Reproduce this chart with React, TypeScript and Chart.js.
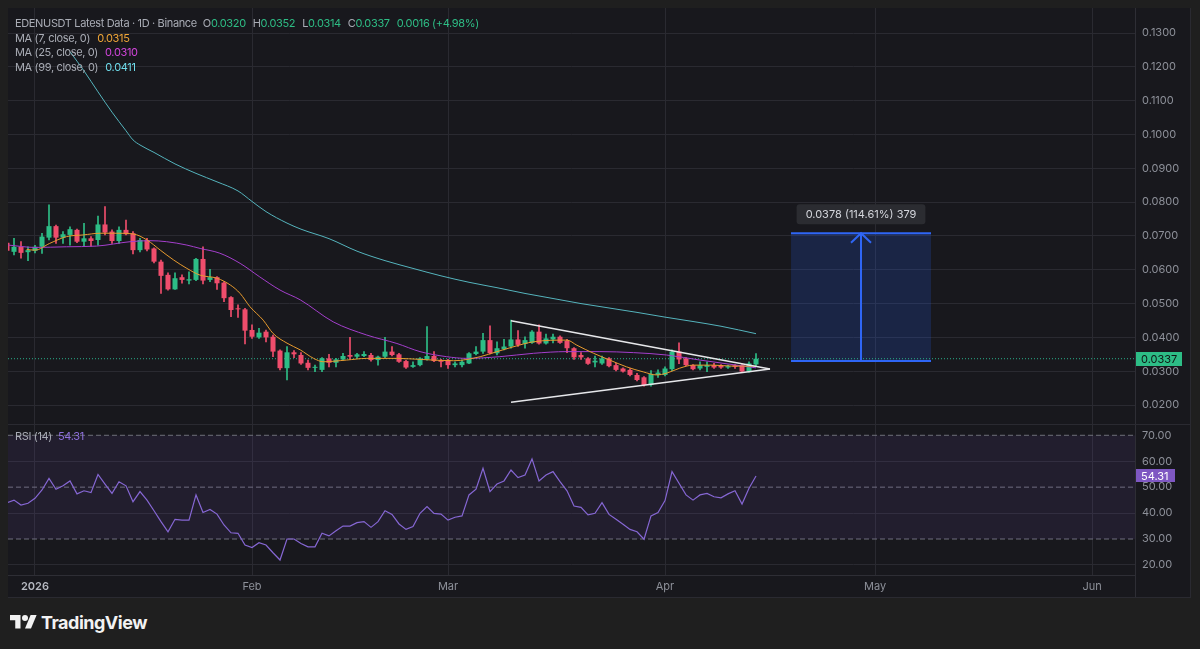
import React, { useEffect, useRef } from "react";
import { Chart, registerables } from "chart.js";

Chart.register(...registerables);

// ---------- data (day index 0 = 2026-01-01; first candle 2025-12-28) ----------
const FIRST_DAY = -4;
const OPEN = [
  0.0680, 0.0653, 0.0668, 0.0652, 0.0656, 0.0668, 0.0695, 0.0729, 0.0695, 0.0703,
  0.0718, 0.0683, 0.0693, 0.0688, 0.0734, 0.0713, 0.0685, 0.0718, 0.0708, 0.0658,
  0.0688, 0.0663, 0.0624, 0.0585, 0.0542, 0.0578, 0.0568, 0.0570, 0.0632, 0.0570,
  0.0578, 0.0562, 0.0519, 0.0486, 0.0483, 0.0422, 0.0400, 0.0417, 0.0402, 0.0361,
  0.0309, 0.0356, 0.0348, 0.0325, 0.0310, 0.0304, 0.0338, 0.0325, 0.0335, 0.0348,
  0.0343, 0.0345, 0.0348, 0.0333, 0.0343, 0.0358, 0.0350, 0.0330, 0.0313, 0.0318,
  0.0335, 0.0345, 0.0333, 0.0333, 0.0318, 0.0318, 0.0323, 0.0351, 0.0358, 0.0392,
  0.0353, 0.0365, 0.0373, 0.0394, 0.0381, 0.0384, 0.0417, 0.0382, 0.0394, 0.0402,
  0.0390, 0.0368, 0.0348, 0.0338, 0.0326, 0.0323, 0.0338, 0.0318, 0.0308, 0.0304,
  0.0289, 0.0282, 0.0259, 0.0289, 0.0289, 0.0306, 0.0358, 0.0338, 0.0318, 0.0308,
  0.0313, 0.0318, 0.0318, 0.0311, 0.0318, 0.0318, 0.0299, 0.0320,
];
const HIGH = [
  0.0685, 0.0693, 0.0683, 0.0668, 0.0672, 0.0708, 0.0792, 0.0732, 0.0713, 0.0727,
  0.0720, 0.0737, 0.0698, 0.0759, 0.0787, 0.0718, 0.0727, 0.0747, 0.0713, 0.0693,
  0.0693, 0.0665, 0.0629, 0.0591, 0.0591, 0.0585, 0.0594, 0.0634, 0.0668, 0.0601,
  0.0580, 0.0565, 0.0521, 0.0496, 0.0486, 0.0437, 0.0427, 0.0422, 0.0407, 0.0363,
  0.0373, 0.0361, 0.0355, 0.0333, 0.0318, 0.0340, 0.0350, 0.0338, 0.0353, 0.0400,
  0.0353, 0.0358, 0.0353, 0.0345, 0.0400, 0.0373, 0.0353, 0.0333, 0.0328, 0.0340,
  0.0432, 0.0358, 0.0335, 0.0335, 0.0328, 0.0333, 0.0355, 0.0373, 0.0412, 0.0434,
  0.0387, 0.0394, 0.0451, 0.0420, 0.0402, 0.0420, 0.0437, 0.0410, 0.0410, 0.0405,
  0.0394, 0.0370, 0.0355, 0.0340, 0.0345, 0.0345, 0.0340, 0.0323, 0.0310, 0.0308,
  0.0294, 0.0284, 0.0302, 0.0304, 0.0313, 0.0363, 0.0384, 0.0340, 0.0320, 0.0328,
  0.0328, 0.0323, 0.0320, 0.0318, 0.0320, 0.0320, 0.0328, 0.0352,
];
const LOW = [
  0.0650, 0.0644, 0.0634, 0.0627, 0.0650, 0.0648, 0.0688, 0.0678, 0.0678, 0.0673,
  0.0680, 0.0670, 0.0670, 0.0673, 0.0703, 0.0678, 0.0678, 0.0703, 0.0647, 0.0653,
  0.0656, 0.0620, 0.0530, 0.0540, 0.0542, 0.0560, 0.0558, 0.0568, 0.0558, 0.0565,
  0.0542, 0.0506, 0.0461, 0.0459, 0.0381, 0.0397, 0.0397, 0.0387, 0.0343, 0.0304,
  0.0274, 0.0340, 0.0320, 0.0304, 0.0299, 0.0299, 0.0313, 0.0313, 0.0333, 0.0335,
  0.0338, 0.0343, 0.0330, 0.0318, 0.0340, 0.0345, 0.0326, 0.0308, 0.0311, 0.0316,
  0.0333, 0.0328, 0.0313, 0.0308, 0.0313, 0.0313, 0.0322, 0.0348, 0.0353, 0.0351,
  0.0348, 0.0363, 0.0368, 0.0373, 0.0368, 0.0382, 0.0380, 0.0380, 0.0384, 0.0382,
  0.0355, 0.0335, 0.0335, 0.0320, 0.0313, 0.0320, 0.0313, 0.0301, 0.0297, 0.0286,
  0.0271, 0.0256, 0.0256, 0.0282, 0.0286, 0.0302, 0.0322, 0.0316, 0.0304, 0.0304,
  0.0299, 0.0308, 0.0308, 0.0308, 0.0308, 0.0297, 0.0297, 0.0314,
];
const CLOSE = [
  0.0656, 0.0668, 0.0650, 0.0658, 0.0668, 0.0698, 0.0729, 0.0695, 0.0705, 0.0720,
  0.0683, 0.0693, 0.0685, 0.0734, 0.0710, 0.0685, 0.0718, 0.0705, 0.0658, 0.0688,
  0.0660, 0.0624, 0.0582, 0.0542, 0.0575, 0.0570, 0.0572, 0.0632, 0.0568, 0.0578,
  0.0560, 0.0516, 0.0481, 0.0483, 0.0420, 0.0402, 0.0414, 0.0400, 0.0358, 0.0309,
  0.0356, 0.0350, 0.0323, 0.0310, 0.0313, 0.0338, 0.0325, 0.0335, 0.0345, 0.0343,
  0.0350, 0.0351, 0.0333, 0.0343, 0.0358, 0.0348, 0.0328, 0.0311, 0.0318, 0.0338,
  0.0345, 0.0330, 0.0328, 0.0318, 0.0323, 0.0328, 0.0353, 0.0358, 0.0392, 0.0353,
  0.0368, 0.0373, 0.0394, 0.0378, 0.0392, 0.0417, 0.0382, 0.0397, 0.0402, 0.0384,
  0.0368, 0.0341, 0.0341, 0.0322, 0.0331, 0.0338, 0.0315, 0.0304, 0.0299, 0.0289,
  0.0274, 0.0259, 0.0292, 0.0296, 0.0308, 0.0358, 0.0335, 0.0318, 0.0306, 0.0318,
  0.0318, 0.0311, 0.0311, 0.0315, 0.0313, 0.0299, 0.0323, 0.0337,
];
const RSI = [
  44.0, 45.0, 43.1, 43.8, 45.7, 48.9, 53.4, 49.2, 50.5, 52.4,
  47.4, 48.6, 47.9, 54.9, 51.2, 47.6, 52.1, 50.5, 44.4, 48.3,
  45.0, 40.9, 36.7, 32.8, 37.6, 37.3, 37.3, 47.0, 40.2, 41.4,
  39.6, 35.4, 32.4, 32.2, 27.7, 26.7, 28.6, 27.7, 24.7, 21.9,
  30.0, 30.0, 28.3, 27.0, 27.0, 32.2, 31.2, 33.2, 35.0, 35.0,
  36.3, 36.7, 34.5, 36.7, 40.9, 39.5, 35.8, 33.7, 34.8, 39.9,
  42.5, 39.9, 39.6, 37.3, 38.4, 38.9, 47.0, 49.2, 57.3, 48.3,
  51.2, 52.4, 56.6, 53.7, 54.7, 60.9, 52.4, 54.7, 56.0, 52.1,
  48.6, 42.7, 42.2, 39.3, 39.9, 44.0, 39.5, 37.6, 35.7, 33.7,
  32.8, 29.9, 38.9, 40.2, 44.8, 56.0, 51.5, 47.0, 45.0, 47.0,
  47.6, 46.3, 45.9, 47.4, 48.6, 43.5, 49.6, 54.31,
];

const MA7_DAYS = [-1.2, 0, 2.1, 4.5, 6.9, 9.3, 11.7, 14, 16, 17.9, 19.8, 21.7, 23.6, 26, 27.9, 29.3, 30.7, 32.6, 34, 36, 37.9, 39.8, 41.2, 44.5, 47.4, 51.7, 55, 59.8, 63.6, 66, 68.3, 71.2, 76, 77.4, 79.8, 82.1, 84.5, 86.9, 88.8, 90.2, 92.1, 94, 96.9, 99.8, 103];
const MA7_VALUES = [0.0660, 0.0658, 0.0678, 0.0698, 0.0703, 0.0708, 0.0708, 0.0706, 0.0688, 0.0658, 0.0629, 0.0604, 0.0584, 0.0575, 0.0555, 0.0530, 0.0491, 0.0451, 0.0412, 0.0383, 0.0363, 0.0338, 0.0328, 0.0333, 0.0338, 0.0338, 0.0335, 0.0331, 0.0343, 0.0358, 0.0372, 0.0387, 0.0392, 0.0377, 0.0353, 0.0333, 0.0313, 0.0298, 0.0289, 0.0294, 0.0309, 0.0318, 0.0318, 0.0315, 0.0315];
const MA25_DAYS = [-3.8, 0, 4.5, 8.8, 13.6, 16.4, 18.8, 21.7, 23.6, 26.4, 29.3, 32.1, 35, 37.9, 42.6, 47.4, 51.7, 55, 58.8, 61.7, 66.4, 71.2, 76, 80.7, 85.5, 90.2, 95, 103];
const MA25_VALUES = [0.0673, 0.0666, 0.0668, 0.0670, 0.0683, 0.0686, 0.0683, 0.0673, 0.0663, 0.0649, 0.0619, 0.0579, 0.0540, 0.0511, 0.0446, 0.0407, 0.0382, 0.0358, 0.0343, 0.0338, 0.0343, 0.0353, 0.0358, 0.0358, 0.0355, 0.0348, 0.0333, 0.0310];
const MA99_DAYS = [5, 7, 9, 11, 13, 14, 15, 17, 20, 23, 26, 29, 31, 33, 36, 38, 42, 46, 50, 54, 58, 62, 66, 70, 74, 78, 82, 86, 90, 94, 98, 103];
const MA99_VALUES = [0.1245, 0.1188, 0.1126, 0.1066, 0.1011, 0.0984, 0.0969, 0.0947, 0.0913, 0.0885, 0.0860, 0.0833, 0.0802, 0.0772, 0.0738, 0.0720, 0.0692, 0.0655, 0.0627, 0.0604, 0.0582, 0.0563, 0.0547, 0.0530, 0.0515, 0.0500, 0.0487, 0.0474, 0.0460, 0.0447, 0.0433, 0.0411];

// drawn triangle (day, price)
const TRI_UPPER_DAYS = [68, 105];
const TRI_UPPER_PRICES = [0.0449, 0.03065];
const TRI_LOWER_DAYS = [68, 105];
const TRI_LOWER_PRICES = [0.0208, 0.03065];

// price range measurement
const MEASURE_DAYS = [108, 128];
const MEASURE_ARROW_DAY = 118;
const MEASURE_LOW = 0.0330;
const MEASURE_HIGH = 0.0708;
const MEASURE_TEXT = "0.0378 (114.61%) 379";

const LAST_CLOSE = 0.0337;
const LAST_RSI = 54.31;

const PRICE_TICKS = [0.02, 0.03, 0.04, 0.05, 0.06, 0.07, 0.08, 0.09, 0.10, 0.11, 0.12, 0.13];
const RSI_TICKS = [20, 30, 40, 50, 60, 70];
const RSI_LEVELS = [70, 50, 30];
const MONTH_TICK_DAYS = [0, 31, 59, 90, 120, 151];
const MONTH_LABELS = ["2026", "Feb", "Mar", "Apr", "May", "Jun"];

// visible ranges
const X_MIN = -3.857;
const X_MAX = 157.14;
const PRICE_MIN = 0.0141;
const PRICE_MAX = 0.1374;
const RSI_MIN = 16.12;
const RSI_MAX = 73.97;

// ---------- styles ----------
const FONT = 'Inter, "Noto Sans", "DejaVu Sans", sans-serif';
const BG_OUTER = "#1f1f1f";
const BG_PANEL = "#18181d";
const GRID = "#2a2a31";
const AXIS_TEXT = "#8d9099";
const UP = "#2dbd86";
const DOWN = "#ef4d6c";
const MA7_COLOR = "#e89b2f";
const MA25_COLOR = "#a43fcc";
const MA99_COLOR = "#55b4bd";
const RSI_COLOR = "#8667d4";
const BLUE = "#2f66f5";

const pts = (xs: number[], ys: number[]) => xs.map((x, i) => ({ x, y: ys[i] }));

const fixYAxis = (s: any) => {
  s.width = 55;
  s.paddingTop = 0;
  s.paddingBottom = 0;
};

export default function App() {
  const priceRef = useRef<HTMLCanvasElement>(null);
  const rsiRef = useRef<HTMLCanvasElement>(null);

  useEffect(() => {
    document.body.style.margin = "0";
    document.body.style.background = BG_OUTER;
    Chart.defaults.font.family = FONT;

    const days = CLOSE.map((_, i) => i + FIRST_DAY);
    const colors = CLOSE.map((c, i) => (c >= OPEN[i] ? UP : DOWN));

    const monthTicks = (s: any) => {
      s.ticks = MONTH_TICK_DAYS.map((v) => ({ value: v }));
    };

    const priceTag = {
      id: "priceTag",
      afterDraw(chart: any) {
        const s = chart.scales.y;
        const y = s.getPixelForValue(LAST_CLOSE);
        const ctx = chart.ctx;
        ctx.save();
        ctx.fillStyle = UP;
        ctx.fillRect(s.left + 1, Math.round(y - 7), 46, 14);
        ctx.fillStyle = "#0f1513";
        ctx.font = `11px ${FONT}`;
        ctx.textBaseline = "middle";
        ctx.textAlign = "left";
        ctx.fillText(LAST_CLOSE.toFixed(4), s.left + 6, y + 0.5);
        // measurement label
        const xs = chart.scales.x;
        const cx = xs.getPixelForValue(MEASURE_ARROW_DAY);
        const ty = s.getPixelForValue(MEASURE_HIGH) - 19;
        ctx.font = `11px ${FONT}`;
        const w = ctx.measureText(MEASURE_TEXT).width + 18;
        ctx.fillStyle = "#2b2c31";
        ctx.beginPath();
        if (ctx.roundRect) ctx.roundRect(cx - w / 2, ty - 10, w, 20, 3);
        else ctx.rect(cx - w / 2, ty - 10, w, 20);
        ctx.fill();
        ctx.fillStyle = "#d4d6dc";
        ctx.textAlign = "center";
        ctx.fillText(MEASURE_TEXT, cx, ty + 0.5);
        ctx.restore();
      },
    };

    const rsiTag = {
      id: "rsiTag",
      afterDraw(chart: any) {
        const s = chart.scales.y;
        const y = s.getPixelForValue(LAST_RSI);
        const ctx = chart.ctx;
        ctx.save();
        ctx.fillStyle = "#7e57c2";
        ctx.fillRect(s.left + 1, Math.round(y - 6.5), 39, 13);
        ctx.fillStyle = "#ffffff";
        ctx.font = `11px ${FONT}`;
        ctx.textBaseline = "middle";
        ctx.textAlign = "left";
        ctx.fillText(LAST_RSI.toFixed(2), s.left + 6, y + 0.5);
        ctx.restore();
      },
    };

    const lineDs = (data: any[], color: string, order: number, extra: any = {}) => ({
      type: "line",
      data,
      borderColor: color,
      borderWidth: 1,
      pointRadius: 0,
      tension: 0,
      fill: false,
      order,
      ...extra,
    });

    const price = new Chart(priceRef.current!, {
      type: "bar",
      data: {
        datasets: [
          lineDs(pts(TRI_UPPER_DAYS, TRI_UPPER_PRICES), "#e6e7ea", 0, { borderWidth: 1.5 }),
          lineDs(pts(TRI_LOWER_DAYS, TRI_LOWER_PRICES), "#e6e7ea", 0, { borderWidth: 1.5 }),
          lineDs(pts(MA7_DAYS, MA7_VALUES), MA7_COLOR, 1, { cubicInterpolationMode: "monotone" }),
          lineDs(pts(MA25_DAYS, MA25_VALUES), MA25_COLOR, 1, { cubicInterpolationMode: "monotone" }),
          lineDs(pts(MA99_DAYS, MA99_VALUES), MA99_COLOR, 1, { cubicInterpolationMode: "monotone" }),
          {
            type: "bar",
            data: days.map((d, i) => ({ x: d, y: [OPEN[i], CLOSE[i]] })),
            backgroundColor: colors,
            borderWidth: 0,
            minBarLength: 1,
            grouped: false,
            order: 2,
          },
          {
            type: "bar",
            data: days.map((d, i) => ({ x: d, y: [LOW[i], HIGH[i]] })),
            backgroundColor: colors,
            borderWidth: 0,
            barThickness: 1,
            grouped: false,
            order: 3,
          },
          lineDs(pts([X_MIN, X_MAX], [LAST_CLOSE, LAST_CLOSE]), "#2aae88", 4, { borderDash: [1, 2] }),
          lineDs(pts(MEASURE_DAYS, [MEASURE_HIGH, MEASURE_HIGH]), BLUE, 5, {
            borderWidth: 2,
            fill: "+1",
            backgroundColor: "rgba(41,98,255,0.18)",
          }),
          lineDs(pts(MEASURE_DAYS, [MEASURE_LOW, MEASURE_LOW]), BLUE, 5, { borderWidth: 2 }),
          lineDs(pts([MEASURE_ARROW_DAY, MEASURE_ARROW_DAY], [MEASURE_LOW, MEASURE_HIGH]), BLUE, 0, { borderWidth: 2 }),
          lineDs(
            pts([MEASURE_ARROW_DAY - 1.43, MEASURE_ARROW_DAY, MEASURE_ARROW_DAY + 1.43], [MEASURE_HIGH - 0.0028, MEASURE_HIGH, MEASURE_HIGH - 0.0028]),
            BLUE,
            0,
            { borderWidth: 2 }
          ),
        ] as any,
      },
      options: {
        animation: false,
        responsive: true,
        maintainAspectRatio: false,
        events: [],
        layout: { padding: 0 },
        plugins: { legend: { display: false }, tooltip: { enabled: false } },
        scales: {
          x: {
            type: "linear",
            min: X_MIN,
            max: X_MAX,
            offset: false,
            afterBuildTicks: monthTicks,
            afterFit: (s: any) => {
              s.height = 0;
              s.paddingLeft = 0;
              s.paddingRight = 0;
            },
            grid: { color: GRID, drawTicks: false, offset: false },
            border: { display: false },
            ticks: { display: false },
          },
          y: {
            type: "linear",
            position: "right",
            min: PRICE_MIN,
            max: PRICE_MAX,
            afterBuildTicks: (s: any) => {
              s.ticks = PRICE_TICKS.map((v) => ({ value: v }));
            },
            afterFit: fixYAxis,
            grid: { color: GRID, drawTicks: false },
            border: { display: true, color: "#2e2e35" },
            ticks: {
              autoSkip: false,
              padding: 7,
              color: AXIS_TEXT,
              font: { size: 11 },
              callback: (v: any) => Number(v).toFixed(4),
            },
          },
        },
      } as any,
      plugins: [priceTag],
    });

    const rsi = new Chart(rsiRef.current!, {
      type: "line",
      data: {
        datasets: [
          lineDs(pts(days, RSI), RSI_COLOR, 0, { borderWidth: 1.2 }),
          lineDs(pts([X_MIN, X_MAX], [RSI_LEVELS[0], RSI_LEVELS[0]]), "#6f717a", 1, {
            borderDash: [5, 3],
            fill: "+1",
            backgroundColor: "rgba(126,87,194,0.10)",
          }),
          lineDs(pts([X_MIN, X_MAX], [RSI_LEVELS[2], RSI_LEVELS[2]]), "#6f717a", 1, { borderDash: [5, 3] }),
          lineDs(pts([X_MIN, X_MAX], [RSI_LEVELS[1], RSI_LEVELS[1]]), "#6f717a", 1, { borderDash: [5, 3] }),
        ] as any,
      },
      options: {
        animation: false,
        responsive: true,
        maintainAspectRatio: false,
        events: [],
        layout: { padding: 0 },
        plugins: { legend: { display: false }, tooltip: { enabled: false } },
        scales: {
          x: {
            type: "linear",
            min: X_MIN,
            max: X_MAX,
            offset: false,
            afterBuildTicks: monthTicks,
            afterFit: (s: any) => {
              s.height = 23;
              s.paddingLeft = 0;
              s.paddingRight = 0;
            },
            grid: { color: GRID, drawTicks: false, offset: false },
            border: { display: true, color: "#2e2e35" },
            ticks: {
              autoSkip: false,
              maxRotation: 0,
              padding: 5,
              color: (c: any) => (c.index === 0 ? "#b7bac2" : AXIS_TEXT),
              font: (c: any) => ({ size: 11, weight: c.index === 0 ? "600" : "400" }),
              callback: (_v: any, i: number) => MONTH_LABELS[i],
            },
          },
          y: {
            type: "linear",
            position: "right",
            min: RSI_MIN,
            max: RSI_MAX,
            afterBuildTicks: (s: any) => {
              s.ticks = RSI_TICKS.map((v) => ({ value: v }));
            },
            afterFit: fixYAxis,
            grid: {
              color: (c: any) => (c.tick && RSI_LEVELS.includes(c.tick.value) ? "rgba(0,0,0,0)" : GRID),
              drawTicks: false,
            },
            border: { display: true, color: "#2e2e35" },
            ticks: {
              autoSkip: false,
              padding: 7,
              color: AXIS_TEXT,
              font: { size: 11 },
              callback: (v: any) => Number(v).toFixed(2),
            },
          },
        },
      } as any,
      plugins: [rsiTag],
    });

    return () => {
      price.destroy();
      rsi.destroy();
    };
  }, []);

  const gray = "#a9acb5";
  const green = "#2ebd85";
  const txt: React.CSSProperties = {
    position: "absolute",
    left: 15,
    fontSize: 11,
    letterSpacing: -0.35,
    fontFamily: FONT,
    whiteSpace: "nowrap",
    lineHeight: "14px",
  };

  return (
    <div style={{ position: "relative", width: 1200, height: 649, background: BG_OUTER, overflow: "hidden", fontFamily: FONT }}>
      <div style={{ position: "absolute", left: 8, top: 8, width: 1183, height: 590, background: BG_PANEL }} />
      <div style={{ position: "absolute", left: 8, top: 8, width: 1182, height: 417 }}>
        <canvas ref={priceRef} />
      </div>
      <div style={{ position: "absolute", left: 8, top: 425, width: 1182, height: 173 }}>
        <canvas ref={rsiRef} />
      </div>
      {/* pane separator and borders */}
      <div style={{ position: "absolute", left: 8, top: 424, width: 1183, height: 1, background: "#2a2a31" }} />
      <div style={{ position: "absolute", left: 1135, top: 575, width: 1, height: 23, background: "#2e2e35" }} />
      <div style={{ position: "absolute", left: 8, top: 597, width: 1183, height: 1, background: "#2a2a31" }} />
      <div style={{ position: "absolute", left: 1190, top: 8, width: 1, height: 590, background: "#2a2a31" }} />

      {/* header legend */}
      <div style={{ ...txt, top: 16, color: gray }}>
        EDENUSDT Latest Data · 1D · Binance
        <span style={{ marginLeft: 6 }}>O</span><span style={{ color: green }}>0.0320</span>
        <span style={{ marginLeft: 7 }}>H</span><span style={{ color: green }}>0.0352</span>
        <span style={{ marginLeft: 7 }}>L</span><span style={{ color: green }}>0.0314</span>
        <span style={{ marginLeft: 7 }}>C</span><span style={{ color: green }}>0.0337</span>
        <span style={{ marginLeft: 7, color: green }}>0.0016 (+4.98%)</span>
      </div>
      <div style={{ ...txt, top: 31, color: gray }}>
        MA (7, close, 0)<span style={{ marginLeft: 7, color: "#f0a637" }}>0.0315</span>
      </div>
      <div style={{ ...txt, top: 45, color: gray }}>
        MA (25, close, 0)<span style={{ marginLeft: 7, color: "#d245db" }}>0.0310</span>
      </div>
      <div style={{ ...txt, top: 60, color: gray }}>
        MA (99, close, 0)<span style={{ marginLeft: 7, color: "#6fdceb" }}>0.0411</span>
      </div>
      <div style={{ ...txt, top: 429, color: gray }}>
        RSI (14)<span style={{ marginLeft: 6, color: "#8e70dc" }}>54.31</span>
      </div>

      {/* TradingView wordmark */}
      <div style={{ position: "absolute", left: 10, top: 612, display: "flex", alignItems: "center", color: "#f2f2f2" }}>
        <svg width="27" height="21" viewBox="0 0 36 28">
          <path d="M14 22H7V11H0V4h14v18z" fill="#f2f2f2" />
          <circle cx="20" cy="8" r="4" fill="#f2f2f2" />
          <path d="M28 22h-8l7.5-18h8L28 22z" fill="#f2f2f2" />
        </svg>
        <span style={{ marginLeft: 4, fontSize: 18, fontWeight: 700, letterSpacing: -0.5, fontFamily: FONT }}>TradingView</span>
      </div>
    </div>
  );
}
